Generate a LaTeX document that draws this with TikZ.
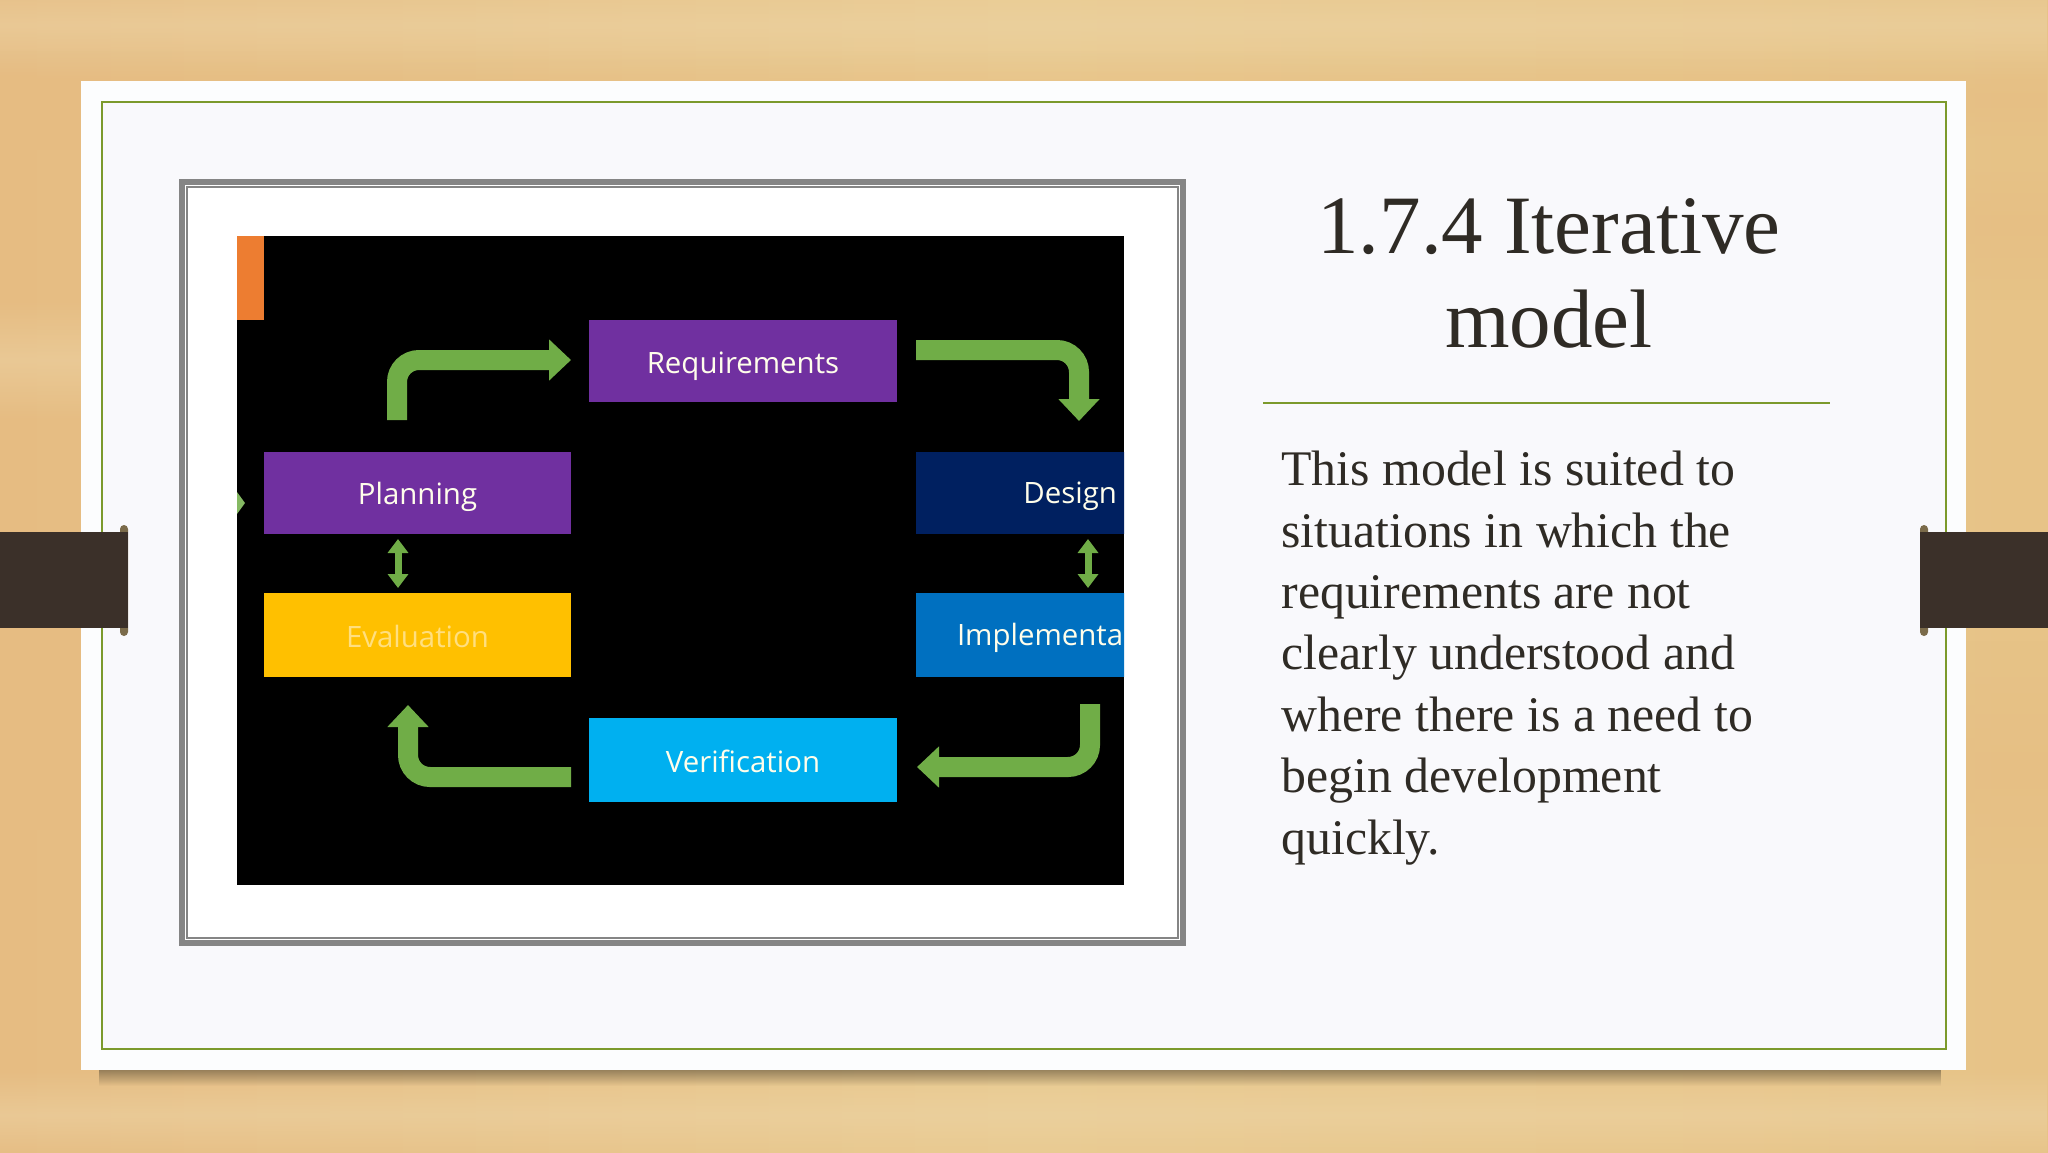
\documentclass[tikz,border=0pt]{standalone}
\usepackage{fontspec}
\usetikzlibrary{arrows.meta,fadings,positioning}
\setmainfont{Liberation Serif}
\newfontfamily\boxfont{Open Sans}
\definecolor{woodA}{HTML}{E9CA90}
\definecolor{woodB}{HTML}{E7C387}
\definecolor{woodC}{HTML}{EDD5A8}
\definecolor{woodD}{HTML}{E6BC82}
\definecolor{panel}{HTML}{F9F9FC}
\definecolor{panelrim}{HTML}{FCFDFE}
\definecolor{rimgreen}{HTML}{7C9A2C}
\definecolor{strapc}{HTML}{3B3029}
\definecolor{nubc}{HTML}{7B6B4A}
\definecolor{framegray}{HTML}{858585}
\definecolor{inkc}{HTML}{2F2B25}
\definecolor{flowg}{HTML}{70AD47}
\definecolor{purp}{HTML}{7030A0}
\definecolor{navyc}{HTML}{002060}
\definecolor{bluec}{HTML}{0070C0}
\definecolor{amberc}{HTML}{FFC000}
\definecolor{skyc}{HTML}{00B0F0}
\definecolor{orangec}{HTML}{ED7D31}
\tikzset{
  x=0.5pt,y=-0.5pt,
  stepbox/.style={rectangle,inner sep=0pt,outer sep=0pt,anchor=north west,text=white,font=\boxfont\fontsize{14.7}{16}\selectfont},
  boxlabel/.style={inner sep=0pt,outer sep=0pt,text=white!92!yellow,font=\boxfont\fontsize{14.7}{16}\selectfont},
  flowarrow/.style={draw=flowg,line width=10pt,rounded corners=11pt,-{Triangle[width=20pt,length=11pt]}},
  linkarrow/.style={draw=flowg,line width=3.5pt,{Triangle[width=10pt,length=7pt]}-{Triangle[width=10pt,length=7pt]}},
  streak/.style={fill=#1,path fading=streakfade},
}
\tikzfading[name=streakfade,top color=transparent!100,bottom color=transparent!100,middle color=transparent!50]
\tikzfading[name=shadowfade,top color=transparent!30,bottom color=transparent!100]
\begin{document}
\begin{tikzpicture}
\useasboundingbox (0,0) rectangle (2048,1152);
% wood
\shade[left color=woodD,right color=woodB,middle color=woodA,shading angle=90] (0,0) rectangle (2048,1152);
\fill[streak=woodC] (0,-30) rectangle (2048,80);
\fill[streak=woodD] (0,50) rectangle (2048,150);
\fill[streak=woodC] (0,300) rectangle (100,420);
\fill[streak=woodD] (1960,150) rectangle (2048,300);
\fill[streak=woodD] (0,620) rectangle (90,830);
\fill[streak=woodD] (1960,640) rectangle (2048,900);
\fill[streak=woodC] (0,1070) rectangle (2048,1160);
% shadow and panel
\fill[black!55!woodA,path fading=shadowfade] (100,1068) rectangle (1945,1086);
\fill[panelrim] (81,81) rectangle (1966,1070);
\fill[panel] (102,102) rectangle (1946,1049);
\draw[rimgreen,line width=1.35pt] (102,102) rectangle (1946,1049);
% straps
\fill[nubc,rounded corners=2pt] (120,525) rectangle (128,636);
\fill[nubc,rounded corners=2pt] (1920,525) rectangle (1928,636);
\fill[strapc] (0,532) rectangle (128,628);
\fill[strapc] (1920,532) rectangle (2048,628);
% framed picture
\fill[white] (179,179) rectangle (1186,946);
\draw[framegray,line width=3pt] (182,182) rectangle (1183,943);
\draw[framegray,line width=1pt] (187,187) rectangle (1178,938);
\fill[black] (237,236) rectangle (1124,885);
\fill[orangec] (237,236) rectangle (264,320);
\fill[flowg!85!white] (237,492) -- (245,503) -- (237,514) -- cycle;
\begin{scope}
\clip (237,236) rectangle (1124,885);
\node[stepbox,fill=purp,minimum width=154pt,minimum height=41pt] (req) at (589,320) {};
\node[stepbox,fill=purp,minimum width=153.5pt,minimum height=41pt] (plan) at (264,452) {};
\node[stepbox,fill=navyc,minimum width=104.5pt,minimum height=41pt] (des) at (916,452) {};
\node[stepbox,fill=amberc,minimum width=153.5pt,minimum height=42pt] (eval) at (264,593) {};
\node[stepbox,fill=bluec,minimum width=104.5pt,minimum height=42pt] (impl) at (916,593) {};
\node[stepbox,fill=skyc,minimum width=154pt,minimum height=42pt] (ver) at (589,718) {};
\node[boxlabel,yshift=-2.5pt] (reqt) at (req.center) {Requirements};
\node[boxlabel,yshift=-2pt] (plant) at (plan.center) {Planning};
\node[boxlabel,anchor=east] (dest) at (1117,496) {Design};
\node[boxlabel,text=white!50!amberc,yshift=-0.5pt] (evalt) at (eval.center) {Evaluation};
\node[boxlabel,anchor=west] (implt) at (957,638) {Implementa};
\node[boxlabel,yshift=-0.5pt] (vert) at (ver.center) {Verification};
\end{scope}
% connectors
\coordinate (a1s) at (397,420);
\coordinate (a1e) at (571,360);
\coordinate (a2s) at (916,350);
\coordinate (a2e) at (1079,421);
\coordinate (a3s) at (1090,704);
\coordinate (a3e) at (917,767);
\coordinate (a4s) at (571,777);
\coordinate (a4e) at (408,705);
\coordinate (l1s) at (398,539);
\coordinate (l1e) at (398,588);
\coordinate (l2s) at (1088,539);
\coordinate (l2e) at (1088,588);
\draw[flowarrow] (a1s) |- (a1e);
\draw[flowarrow] (a2s) -| (a2e);
\draw[flowarrow] (a3s) |- (a3e);
\draw[flowarrow] (a4s) -| (a4e);
\draw[linkarrow] (l1s) -- (l1e);
\draw[linkarrow] (l2s) -- (l2e);
% text
\node[anchor=base,inner sep=0pt,text=inkc,font=\fontsize{41.5}{47}\selectfont,align=center] (title) at (1549,347) {1.7.4 Iterative\\model};
\coordinate (sepl) at (1263,403);
\coordinate (sepr) at (1830,403);
\draw[rimgreen,line width=1pt] (sepl) -- (sepr);
\node[anchor=base west,inner sep=0pt,text=inkc,font=\fontsize{24.9}{30.7}\selectfont,align=left] (body) at (1281,854) {This model is suited to\\situations in which the\\requirements are not\\clearly understood and\\where there is a need to\\begin development\\quickly.};
\end{tikzpicture}
\end{document}
